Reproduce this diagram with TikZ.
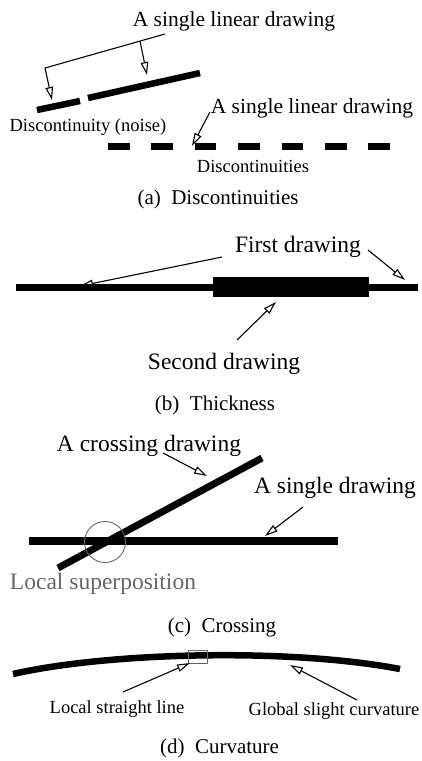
\documentclass[tikz,border=0pt]{standalone}
\usepackage{fontspec}
\setmainfont{Liberation Serif}
\usetikzlibrary{arrows.meta}
\begin{document}
\begin{tikzpicture}[x=1pt,y=-1pt,>={Triangle[open,length=13pt,width=7.5pt]},line join=round,
    lbl/.style={anchor=base,inner sep=0pt,font=\fontsize{23.5}{26}\selectfont},
    sml/.style={anchor=base,inner sep=0pt,font=\fontsize{18.5}{20}\selectfont},
    capt/.style={anchor=base,inner sep=0pt,font=\fontsize{21}{24}\selectfont},
    bar/.style={line width=6.5pt},
    lead/.style={->,line width=1.1pt}]
    \useasboundingbox (0,0) rectangle (421,761);
    % (a) discontinuities
    \node[lbl,font=\fontsize{21.5}{24}\selectfont] (single1) at (234,26) {A single linear drawing};
    \coordinate (ra) at (165,34); \coordinate (rb) at (45,68); \coordinate (rc) at (140,41);
    \coordinate (ta) at (52,100); \coordinate (tb) at (147,75);
    \draw[line width=1.1pt] (ra) -- (rb);
    \draw[lead] (rb) -- (ta);
    \draw[lead] (rc) -- (tb);
    \draw[bar] (37,110) -- (80,101);
    \draw[bar] (88,98) -- (200,73);
    \node[sml] (noise) at (88,131) {Discontinuity (noise)};
    \foreach \i in {0,...,6}
        \draw[line width=7pt] (108+43.4*\i,146) -- ++(21.5,0);
    \node[lbl,font=\fontsize{21.5}{24}\selectfont] (single2) at (312,113) {A single linear drawing};
    \coordinate (sa) at (210,112); \coordinate (sb) at (192,146);
    \draw[lead] (sa) -- (sb);
    \node[sml] (discs) at (253,172) {Discontinuities};
    \node[capt] (capa) at (218,204) {(a)\enspace Discontinuities};
    % (b) thickness
    \draw[line width=7pt] (16,287) -- (418,287);
    \fill (213,277) rectangle (369,297);
    \node[lbl] (first) at (298,252) {First drawing};
    \coordinate (fa) at (222,257); \coordinate (fb) at (80,286);
    \coordinate (fc) at (368,250); \coordinate (fd) at (405,280);
    \draw[lead] (fa) -- (fb);
    \draw[lead] (fc) -- (fd);
    \node[lbl] (second) at (224,369) {Second drawing};
    \coordinate (sc) at (237,340); \coordinate (sd) at (276,302);
    \draw[lead] (sc) -- (sd);
    \node[capt] (capb) at (215,410) {(b)\enspace Thickness};
    % (c) crossing
    \draw[line width=8pt] (29,541) -- (338,541);
    \draw[line width=7pt] (58,568) -- (262,458);
    \draw[black!60,line width=0.9pt] (105,542) circle (20.5);
    \node[lbl] (cross) at (149,451) {A crossing drawing};
    \coordinate (ca) at (163,453); \coordinate (cb) at (207,476);
    \draw[lead] (ca) -- (cb);
    \node[lbl] (single3) at (335,493) {A single drawing};
    \coordinate (cc) at (303,507); \coordinate (cd) at (265,536);
    \draw[lead] (cc) -- (cd);
    \node[lbl,text=black!60] (superpos) at (103,589) {Local superposition};
    \node[capt] (capc) at (222,632) {(c)\enspace Crossing};
    % (d) curvature
    \draw[line width=6.5pt] (13,674) .. controls (110,652) and (290,648) .. (400,669);
    \draw[black!60,line width=0.9pt] (188,650) rectangle (207,663);
    \coordinate (la) at (123,692); \coordinate (lb) at (190,663);
    \coordinate (ga) at (357,700); \coordinate (gb) at (290,665);
    \draw[lead] (la) -- (lb);
    \draw[lead] (ga) -- (gb);
    \node[sml] (straight) at (117,713) {Local straight line};
    \node[sml] (global) at (334,715) {Global slight curvature};
    \node[capt] (capd) at (219.5,753) {(d)\enspace Curvature};
\end{tikzpicture}
\end{document}
